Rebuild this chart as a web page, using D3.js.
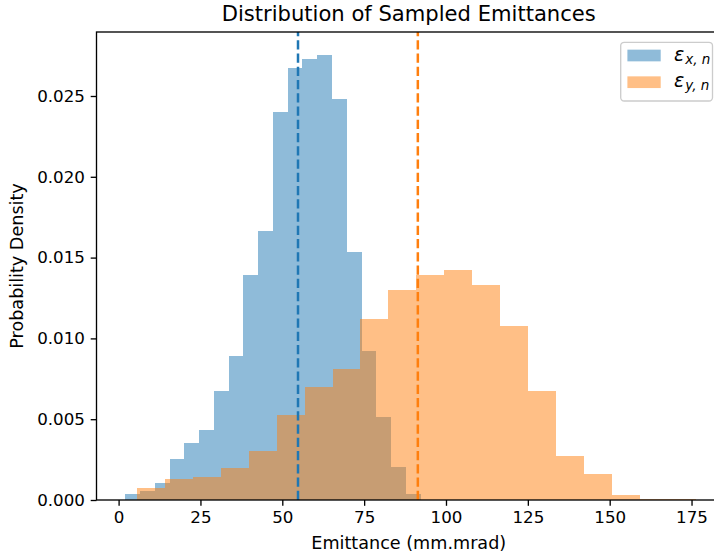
<!DOCTYPE html>
<html>
<head>
<meta charset="utf-8">
<script src="https://cdn.jsdelivr.net/npm/d3@7"></script>
<style>
  body { margin: 0; background: #fff; }
  svg { display: block; font-family: "DejaVu Sans", sans-serif; }
</style>
</head>
<body>
<div id="chart"></div>
<script>
// histogram bins (density)
const blueStart = 2.05, blueWidth = 4.51;
const blueDensity = [0.00035, 0.00058, 0.00103, 0.00252, 0.00351, 0.00433, 0.00675, 0.00891, 0.01392, 0.01666,
  0.02403, 0.02673, 0.02729, 0.02754, 0.02480, 0.01533, 0.00924, 0.00514, 0.00204, 0.00035];

const orangeStart = 5.63, orangeWidth = 8.53;
const orangeDensity = [0.00072, 0.00128, 0.00140, 0.00196, 0.00303, 0.00524, 0.00701, 0.00809, 0.01120, 0.01298,
  0.01392, 0.01423, 0.01328, 0.01077, 0.00677, 0.00274, 0.00159, 0.00031, 0.00008, 0.00008];

const means = [54.8, 91.4];
const xTicks = [0, 25, 50, 75, 100, 125, 150, 175];
const yTicks = [0, 0.005, 0.010, 0.015, 0.020, 0.025];

const W = 714, H = 554;
const margin = {top: 32, left: 96.5, right: 721, bottom: 500};

const blue = "#1f77b4", orange = "#ff7f0e";

const svg = d3.select("#chart").append("svg")
  .attr("width", W).attr("height", H)
  .style("overflow", "hidden");

const x = d3.scaleLinear().domain([-6.75, 184.0]).range([margin.left, margin.right]);
const y = d3.scaleLinear().domain([0, 0.02896]).range([margin.bottom, margin.top]);

function drawHist(start, width, dens, color) {
  svg.append("g").selectAll("rect")
    .data(dens)
    .enter()
    .append("rect")
    .attr("x", (d, i) => x(start + i * width))
    .attr("width", (d, i) => x(start + (i + 1) * width) - x(start + i * width))
    .attr("y", d => y(d))
    .attr("height", d => y(0) - y(d))
    .attr("fill", color)
    .attr("fill-opacity", 0.5)
    .attr("shape-rendering", "crispEdges");
}

drawHist(blueStart, blueWidth, blueDensity, blue);
drawHist(orangeStart, orangeWidth, orangeDensity, orange);

// mean lines
svg.append("g").selectAll("line")
  .data(means)
  .enter()
  .append("line")
  .attr("x1", d => x(d)).attr("x2", d => x(d))
  .attr("y1", margin.bottom).attr("y2", margin.top)
  .attr("stroke", (d, i) => i == 0 ? blue : orange)
  .attr("stroke-width", 2.5)
  .attr("stroke-dasharray", "9.25,4");

// axes
const xAxis = svg.append("g")
  .attr("transform", `translate(0,${margin.bottom})`)
  .call(d3.axisBottom(x).tickValues(xTicks).tickSize(5.8).tickPadding(5.2).tickSizeOuter(0));

const yAxis = svg.append("g")
  .attr("transform", `translate(${margin.left},0)`)
  .call(d3.axisLeft(y).tickValues(yTicks).tickFormat(d3.format(".3f")).tickSize(5.8).tickPadding(5.8).tickSizeOuter(0));

[xAxis, yAxis].forEach(a => {
  a.select(".domain").remove();
  a.selectAll("line").attr("stroke", "#000").attr("stroke-width", 1.33);
  a.selectAll("text").attr("font-family", "DejaVu Sans").attr("font-size", 16.7).attr("fill", "#000");
});

// spines
svg.append("rect")
  .attr("x", margin.left).attr("y", margin.top)
  .attr("width", margin.right - margin.left).attr("height", margin.bottom - margin.top)
  .attr("fill", "none").attr("stroke", "#000").attr("stroke-width", 1.33);

// labels
svg.append("text")
  .attr("x", (margin.left + margin.right) / 2).attr("y", 21)
  .attr("text-anchor", "middle").attr("font-size", 21.1)
  .text("Distribution of Sampled Emittances");

svg.append("text")
  .attr("x", (margin.left + margin.right) / 2).attr("y", 549)
  .attr("text-anchor", "middle").attr("font-size", 17.6)
  .text("Emittance (mm.mrad)");

svg.append("text")
  .attr("transform", `translate(23,${(margin.top + margin.bottom) / 2}) rotate(-90)`)
  .attr("text-anchor", "middle").attr("font-size", 17.6)
  .text("Probability Density");

// legend
const legend = svg.append("g");
const lx = 620.7, ly = 42.3;
legend.append("rect")
  .attr("x", lx).attr("y", ly).attr("rx", 3.5)
  .attr("width", 712.5 - lx).attr("height", 101 - ly)
  .attr("fill", "#fff").attr("fill-opacity", 0.8)
  .attr("stroke", "#cccccc").attr("stroke-width", 1.33);

const legendItems = [{sub: "x, n", color: blue}, {sub: "y, n", color: orange}];
legendItems.forEach((it, i) => {
  const cy = 55.5 + i * 26.7;
  legend.append("rect")
    .attr("x", lx + 6.7).attr("y", cy - 5.85)
    .attr("width", 33.3).attr("height", 11.7)
    .attr("fill", it.color).attr("fill-opacity", 0.5);
  const t = legend.append("text")
    .attr("x", lx + 6.7 + 33.3 + 13.3).attr("y", cy + 5)
    .attr("font-size", 19).attr("font-style", "italic");
  t.append("tspan").text("ε");
  t.append("tspan").attr("font-size", 13.5).attr("dy", 3).attr("dx", 1).text(it.sub);
});
</script>
</body>
</html>
